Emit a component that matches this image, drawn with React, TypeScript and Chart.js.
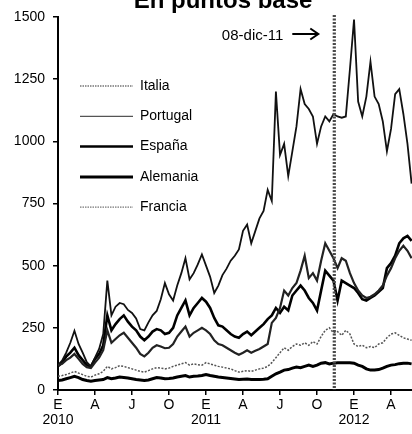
import React, { useEffect, useRef } from "react";
import { Chart, registerables } from "chart.js";

Chart.register(...registerables);

// Observation dates (three per month)
const DATES = [
  "2010-01-01", "2010-01-11", "2010-01-21", "2010-02-01", "2010-02-11", "2010-02-21",
  "2010-03-01", "2010-03-11", "2010-03-21", "2010-04-01", "2010-04-11", "2010-04-21",
  "2010-05-01", "2010-05-11", "2010-05-21", "2010-06-01", "2010-06-11", "2010-06-21",
  "2010-07-01", "2010-07-11", "2010-07-21", "2010-08-01", "2010-08-11", "2010-08-21",
  "2010-09-01", "2010-09-11", "2010-09-21", "2010-10-01", "2010-10-11", "2010-10-21",
  "2010-11-01", "2010-11-11", "2010-11-21", "2010-12-01", "2010-12-11", "2010-12-21",
  "2011-01-01", "2011-01-11", "2011-01-21", "2011-02-01", "2011-02-11", "2011-02-21",
  "2011-03-01", "2011-03-11", "2011-03-21", "2011-04-01", "2011-04-11", "2011-04-21",
  "2011-05-01", "2011-05-11", "2011-05-21", "2011-06-01", "2011-06-11", "2011-06-21",
  "2011-07-01", "2011-07-11", "2011-07-21", "2011-08-01", "2011-08-11", "2011-08-21",
  "2011-09-01", "2011-09-11", "2011-09-21", "2011-10-01", "2011-10-11", "2011-10-21",
  "2011-11-01", "2011-11-11", "2011-11-21", "2011-12-01", "2011-12-11", "2011-12-21",
  "2012-01-01", "2012-01-11", "2012-01-21", "2012-02-01", "2012-02-11", "2012-02-21",
  "2012-03-01", "2012-03-11", "2012-03-21", "2012-04-01", "2012-04-11", "2012-04-21",
  "2012-05-01", "2012-05-11", "2012-05-21",
];

const PORTUGAL = [
  100, 118, 150, 190, 238, 185, 150, 112, 95, 130, 165, 225,
  440, 300, 335, 350, 345, 322, 310, 288, 245, 240, 272, 300,
  318, 365, 430, 385, 360, 420, 470, 530, 445, 470, 505, 545,
  500, 455, 390, 420, 462, 488, 520, 540, 565, 640, 665, 590,
  640, 690, 720, 805, 760, 1200, 945, 990, 860, 960, 1060, 1210,
  1150, 1130, 1100, 990, 1060, 1100, 1080, 1110, 1100, 1095, 1100, 1290,
  1490, 1160, 1100, 1180, 1320, 1180, 1150, 1080, 960, 1050, 1190, 1210,
  1110, 990, 830,
];

const ESPANA = [
  95, 110, 135, 150, 170, 140, 120, 100, 95, 125, 145, 180,
  300, 240, 265, 285, 300, 275, 255, 240, 215, 200, 215, 235,
  245, 240, 225, 230, 250, 300, 330, 360, 300, 330, 350, 370,
  355, 330, 290, 260, 255, 240, 225, 215, 210, 225, 235, 220,
  235, 250, 265, 285, 300, 330, 310, 335, 320, 380, 400, 420,
  400, 370, 350, 320, 400, 480, 460, 440, 360, 440, 430, 420,
  410, 390, 365, 360, 370, 380, 395, 410, 490, 510, 540, 590,
  610, 620, 600,
];

const ITALIA = [
  100, 105, 120, 130, 145, 125, 105, 92, 88, 110, 130, 160,
  240, 190, 205, 220, 230, 210, 190, 170, 145, 135, 150, 170,
  180, 175, 168, 170, 185, 215, 235, 255, 215, 230, 240, 250,
  240, 225, 200, 185, 180, 170, 160, 150, 142, 150, 160, 150,
  158, 165, 175, 185, 270, 290, 330, 400, 380, 410, 430, 480,
  540, 450, 470, 440, 520, 590, 560, 530, 490, 530, 520, 470,
  430, 400, 380, 370, 375, 385, 400, 420, 460, 490, 530, 560,
  580, 560, 530,
];

const FRANCIA = [
  55, 58, 62, 68, 75, 68, 62, 55, 52, 60, 65, 75,
  95, 85, 90, 98, 95, 90, 85, 80, 75, 72, 78, 85,
  90, 88, 85, 88, 95, 100, 105, 110, 100, 105, 102, 100,
  110, 105, 100, 95, 92, 88, 85, 78, 72, 75, 78, 75,
  80, 85, 88, 95, 110, 130, 150, 170, 160, 175, 185, 180,
  190, 180, 195, 185, 215, 240, 250, 230, 235, 220, 240, 225,
  185, 175, 180, 170, 175, 170, 185, 190, 210, 225, 230, 220,
  210, 205, 200,
];

const ALEMANIA = [
  38, 40, 45, 50, 55, 50, 42, 38, 35, 38, 40, 42,
  50, 45, 48, 52, 50, 48, 45, 42, 40, 38, 40, 45,
  50, 48, 45, 46, 48, 52, 55, 58, 52, 55, 56, 58,
  62, 58, 55, 52, 50, 48, 46, 44, 42, 43, 44, 42,
  42, 42, 43, 45, 55, 65, 72, 80, 82, 88, 92, 90,
  95, 100, 95, 100, 108, 110, 105, 108, 110, 110, 110, 110,
  108, 100, 95, 85, 80, 80, 82, 88, 95, 100, 102, 106,
  108, 108, 105,
];

// Axis ticks (months since Jan 2010)
const TICK_MONTHS = [0, 3, 6, 9, 12, 15, 18, 21, 24, 27];
const TICK_LABELS = ["E", "A", "J", "O", "E", "A", "J", "O", "E", "A"];
const YEAR_LABELS = ["2010", "", "", "", "2011", "", "", "", "2012", ""];
const Y_TICKS = [0, 250, 500, 750, 1000, 1250, 1500];

const MARKER_MONTH = 22.4;
const MARKER_LABEL = "08-dic-11";
const TITLE = "En puntos base";

const FONT = "'Liberation Sans', Arial, sans-serif";

function toMonth(d: string): number {
  const [y, m, day] = d.split("-").map(Number);
  return (y - 2010) * 12 + (m - 1) + (day - 1) / 30;
}

export default function App() {
  const ref = useRef<HTMLCanvasElement>(null);

  useEffect(() => {
    if (!ref.current) return;
    const xs = DATES.map(toMonth);
    const pts = (arr: number[]) => arr.map((v, i) => ({ x: xs[i], y: v }));

    const series = [
      { label: "Italia", data: ITALIA, color: "#222", width: 2.2, dash: [] as number[], lColor: "#777", lWidth: 1.3, lDash: [1.5, 1] },
      { label: "Portugal", data: PORTUGAL, color: "#111", width: 1.8, dash: [] as number[], lColor: "#555", lWidth: 1.3, lDash: [] as number[] },
      { label: "España", data: ESPANA, color: "#000", width: 2.6, dash: [] as number[], lColor: "#000", lWidth: 2.5, lDash: [] as number[] },
      { label: "Alemania", data: ALEMANIA, color: "#000", width: 3, dash: [] as number[], lColor: "#000", lWidth: 3, lDash: [] as number[] },
      { label: "Francia", data: FRANCIA, color: "#555", width: 1.5, dash: [2, 1.5], lColor: "#777", lWidth: 1.3, lDash: [1.5, 1] },
    ];

    const overlay = {
      id: "overlay",
      afterDatasetsDraw(chart: any) {
        const ctx = chart.ctx;
        const xScale = chart.scales.x;
        const area = chart.chartArea;
        const mx = xScale.getPixelForValue(MARKER_MONTH);
        ctx.save();
        // vertical marker
        ctx.strokeStyle = "#4a4a4a";
        ctx.lineWidth = 3.2;
        ctx.setLineDash([2, 1.5]);
        ctx.beginPath();
        ctx.moveTo(mx, 15);
        ctx.lineTo(mx, area.bottom);
        ctx.stroke();
        ctx.setLineDash([]);
        // label + arrow
        ctx.fillStyle = "#000";
        ctx.font = `15px ${FONT}`;
        ctx.textAlign = "right";
        ctx.textBaseline = "alphabetic";
        ctx.fillText(MARKER_LABEL, mx - 51, 40);
        const tip = mx - 16;
        ctx.strokeStyle = "#000";
        ctx.lineWidth = 2;
        ctx.beginPath();
        ctx.moveTo(mx - 42, 34);
        ctx.lineTo(tip, 34);
        ctx.moveTo(tip - 8, 28.5);
        ctx.lineTo(tip, 34);
        ctx.lineTo(tip - 8, 39.5);
        ctx.stroke();
        ctx.restore();
      },
      afterDraw(chart: any) {
        const ctx = chart.ctx;
        ctx.save();
        // title (partially cut at the top)
        ctx.fillStyle = "#000";
        ctx.font = `bold 24px ${FONT}`;
        ctx.textAlign = "center";
        ctx.textBaseline = "alphabetic";
        ctx.fillText(TITLE, 223, 8);
        // legend
        ctx.font = `14px ${FONT}`;
        ctx.textAlign = "left";
        ctx.textBaseline = "middle";
        series.forEach((s, i) => {
          const y = 86 + i * 30.3;
          ctx.strokeStyle = s.lColor;
          ctx.lineWidth = s.lWidth;
          ctx.setLineDash(s.lDash);
          ctx.beginPath();
          ctx.moveTo(80, y);
          ctx.lineTo(133, y);
          ctx.stroke();
          ctx.setLineDash([]);
          ctx.fillStyle = "#000";
          ctx.fillText(s.label, 140, y);
        });
        ctx.restore();
      },
    };

    const chart = new Chart(ref.current, {
      type: "line",
      data: {
        datasets: series.map((s) => ({
          label: s.label,
          data: pts(s.data),
          borderColor: s.color,
          borderWidth: s.width,
          borderDash: s.dash,
          pointRadius: 0,
          tension: 0,
          fill: false,
        })),
      },
      options: {
        animation: false,
        responsive: false,
        maintainAspectRatio: false,
        layout: { padding: { top: 17, right: 0, left: 0, bottom: 0 } },
        plugins: {
          legend: { display: false },
          title: { display: false },
          tooltip: { enabled: false },
        },
        scales: {
          x: {
            type: "linear",
            min: 0,
            max: 28.7,
            afterFit: (scale: any) => {
              scale.height = 44;
            },
            afterBuildTicks: (scale: any) => {
              scale.ticks = TICK_MONTHS.map((v) => ({ value: v }));
            },
            grid: {
              drawOnChartArea: false,
              drawTicks: true,
              tickLength: 5,
              color: "#000",
              lineWidth: 1.5,
            },
            border: { display: true, color: "#000", width: 2 },
            ticks: {
              autoSkip: false,
              maxRotation: 0,
              padding: 2,
              color: "#000",
              font: { family: FONT, size: 14, lineHeight: 1.1 },
              callback: (v: any) => {
                const i = TICK_MONTHS.indexOf(Number(v));
                if (i < 0) return "";
                return YEAR_LABELS[i] ? [TICK_LABELS[i], YEAR_LABELS[i]] : TICK_LABELS[i];
              },
            },
          },
          y: {
            type: "linear",
            min: 0,
            max: 1500,
            afterFit: (scale: any) => {
              scale.width = 58;
            },
            afterBuildTicks: (scale: any) => {
              scale.ticks = Y_TICKS.map((v) => ({ value: v }));
            },
            grid: {
              drawOnChartArea: false,
              drawTicks: true,
              tickLength: 5,
              color: "#000",
              lineWidth: 1.5,
            },
            border: { display: true, color: "#000", width: 2 },
            ticks: {
              padding: 8,
              color: "#000",
              font: { family: FONT, size: 14 },
              callback: (v: any) => String(v),
            },
          },
        },
      },
      plugins: [overlay],
    });

    return () => chart.destroy();
  }, []);

  return (
    <div style={{ position: "fixed", left: 0, top: 0, width: 412, height: 434, background: "#fff" }}>
      <canvas ref={ref} width={412} height={434} style={{ display: "block", width: 412, height: 434 }} />
    </div>
  );
}
